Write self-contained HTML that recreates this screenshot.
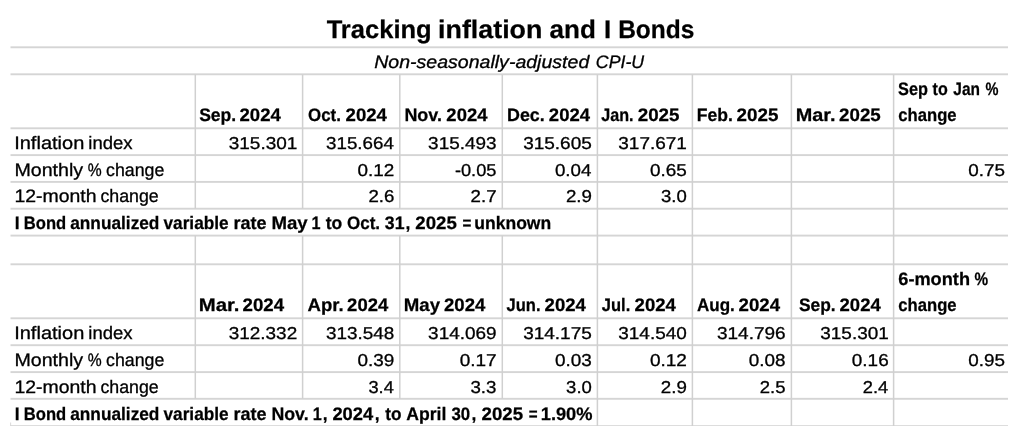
<!DOCTYPE html>
<html lang="en">
<head>
<meta charset="utf-8">
<title>Tracking inflation and I Bonds</title>
<style>
html,body{margin:0;padding:0;background:#fff;}
body{width:1024px;height:426px;position:relative;overflow:hidden;font-family:"Liberation Sans", sans-serif;color:#000;text-rendering:geometricPrecision;}
.g{position:absolute;left:0;top:0;}
.t{position:absolute;left:0;top:0;display:block;white-space:pre;line-height:1;transform-origin:0 0;-webkit-text-stroke:0.3px #000;}
.b{font-weight:bold;-webkit-text-stroke-width:0.25px;}.i{font-style:italic;}
.s{font-size:18.0px;}
.n{font-size:17.2px;}
</style>
</head>
<body>
<svg class="g" width="1024" height="426" viewBox="0 0 1024 426" fill="#d5d5d5">
<rect x="10.5" y="46.35" width="997.5" height="1.9"/>
<rect x="10.5" y="73.35" width="997.5" height="1.9"/>
<rect x="10.5" y="127.35" width="997.5" height="1.9"/>
<rect x="10.5" y="154.15" width="997.5" height="1.9"/>
<rect x="10.5" y="180.95" width="997.5" height="1.9"/>
<rect x="10.5" y="207.75" width="997.5" height="1.9"/>
<rect x="10.5" y="234.65" width="997.5" height="1.9"/>
<rect x="10.5" y="263.35" width="997.5" height="1.9"/>
<rect x="10.5" y="317.35" width="997.5" height="1.9"/>
<rect x="10.5" y="344.25" width="997.5" height="1.9"/>
<rect x="10.5" y="371.15" width="997.5" height="1.9"/>
<rect x="10.5" y="397.85" width="997.5" height="1.9"/>
<rect x="10.5" y="425.20" width="997.5" height="1.9"/>
<rect fill="#d0d0d0" x="194.55" y="74.30" width="1.5" height="134.40"/>
<rect fill="#d0d0d0" x="194.55" y="235.60" width="1.5" height="163.20"/>
<rect fill="#d0d0d0" x="301.85" y="74.30" width="1.5" height="134.40"/>
<rect fill="#d0d0d0" x="301.85" y="235.60" width="1.5" height="163.20"/>
<rect fill="#d0d0d0" x="399.05" y="74.30" width="1.5" height="134.40"/>
<rect fill="#d0d0d0" x="399.05" y="235.60" width="1.5" height="163.20"/>
<rect fill="#d0d0d0" x="501.55" y="74.30" width="1.5" height="134.40"/>
<rect fill="#d0d0d0" x="501.55" y="235.60" width="1.5" height="163.20"/>
<rect fill="#d0d0d0" x="596.65" y="74.30" width="1.5" height="134.40"/>
<rect fill="#d0d0d0" x="596.65" y="208.70" width="1.5" height="26.90"/>
<rect fill="#d0d0d0" x="596.65" y="235.60" width="1.5" height="163.20"/>
<rect fill="#d0d0d0" x="596.65" y="398.80" width="1.5" height="27.20"/>
<rect fill="#d0d0d0" x="691.65" y="74.30" width="1.5" height="134.40"/>
<rect fill="#d0d0d0" x="691.65" y="208.70" width="1.5" height="26.90"/>
<rect fill="#d0d0d0" x="691.65" y="235.60" width="1.5" height="163.20"/>
<rect fill="#d0d0d0" x="691.65" y="398.80" width="1.5" height="27.20"/>
<rect fill="#d0d0d0" x="790.65" y="74.30" width="1.5" height="134.40"/>
<rect fill="#d0d0d0" x="790.65" y="208.70" width="1.5" height="26.90"/>
<rect fill="#d0d0d0" x="790.65" y="235.60" width="1.5" height="163.20"/>
<rect fill="#d0d0d0" x="790.65" y="398.80" width="1.5" height="27.20"/>
<rect fill="#d0d0d0" x="892.85" y="74.30" width="1.5" height="134.40"/>
<rect fill="#d0d0d0" x="892.85" y="208.70" width="1.5" height="26.90"/>
<rect fill="#d0d0d0" x="892.85" y="235.60" width="1.5" height="163.20"/>
<rect fill="#d0d0d0" x="892.85" y="398.80" width="1.5" height="27.20"/>
<rect x="10.20" y="422.5" width="0.9" height="3.5"/>
</svg>
<div><span class="t b" style="font-size:25.4px;transform:translate(326.68px,17.96px) scaleX(1.0052)">Tracking </span><span class="t b" style="font-size:25.4px;transform:translate(438.09px,17.96px) scaleX(1.0565)">inflation </span><span class="t b" style="font-size:25.4px;transform:translate(549.60px,17.96px) scaleX(1.0243)">and </span><span class="t b" style="font-size:25.4px;transform:translate(603.90px,17.96px) scaleX(1.0147)">I </span><span class="t b" style="font-size:25.4px;transform:translate(618.13px,17.96px) scaleX(0.9652)">Bonds</span></div>
<div><span class="t i s" style="transform:translate(374.24px,52.65px) scaleX(1.0853)">Non-seasonally-adjusted </span><span class="t i s" style="transform:translate(595.85px,52.65px) scaleX(0.9856)">CPI-U</span></div>
<div><span class="t b s" style="transform:translate(199.13px,106.25px) scaleX(0.9752)">Sep. </span><span class="t b s" style="transform:translate(239.53px,106.25px) scaleX(1.0304)">2024</span></div>
<div><span class="t b s" style="transform:translate(307.98px,106.25px) scaleX(0.9399)">Oct. </span><span class="t b s" style="transform:translate(345.58px,106.25px) scaleX(1.0321)">2024</span></div>
<div><span class="t b s" style="transform:translate(404.41px,106.25px) scaleX(0.9971)">Nov. </span><span class="t b s" style="transform:translate(446.37px,106.25px) scaleX(1.0248)">2024</span></div>
<div><span class="t b s" style="transform:translate(507.01px,106.25px) scaleX(0.9936)">Dec. </span><span class="t b s" style="transform:translate(548.86px,106.25px) scaleX(1.0275)">2024</span></div>
<div><span class="t b s" style="transform:translate(601.22px,106.25px) scaleX(0.8974)">Jan. </span><span class="t b s" style="transform:translate(637.74px,106.25px) scaleX(1.0427)">2025</span></div>
<div><span class="t b s" style="transform:translate(696.77px,106.25px) scaleX(0.9759)">Feb. </span><span class="t b s" style="transform:translate(736.57px,106.25px) scaleX(1.0443)">2025</span></div>
<div><span class="t b s" style="transform:translate(795.71px,106.25px) scaleX(1.1037)">Mar. </span><span class="t b s" style="transform:translate(839.09px,106.25px) scaleX(1.0414)">2025</span></div>
<div><span class="t b s" style="transform:translate(898.11px,79.75px) scaleX(0.9056)">Sep </span><span class="t b s" style="transform:translate(932.59px,79.75px) scaleX(0.8918)">to </span><span class="t b s" style="transform:translate(953.29px,79.75px) scaleX(0.8593)">Jan </span><span class="t b s" style="transform:translate(985.49px,79.75px) scaleX(0.8094)">%</span></div>
<div><span class="t b s" style="transform:translate(898.26px,106.25px) scaleX(0.9253)">change</span></div>
<div><span class="t s" style="transform:translate(14.16px,133.75px) scaleX(1.1129)">Inflation </span><span class="t s" style="transform:translate(88.27px,133.75px) scaleX(1.0271)">index</span></div>
<div><span class="t s" style="transform:translate(14.40px,160.65px) scaleX(1.0904)">Monthly </span><span class="t s" style="transform:translate(87.63px,160.65px) scaleX(0.8699)">% </span><span class="t s" style="transform:translate(106.10px,160.65px) scaleX(0.9863)">change</span></div>
<div><span class="t s" style="transform:translate(14.38px,187.35px) scaleX(1.0800)">12-month </span><span class="t s" style="transform:translate(100.38px,187.35px) scaleX(0.9871)">change</span></div>
<div><span class="t b s" style="transform:translate(14.79px,214.25px) scaleX(0.9733)">I </span><span class="t b s" style="transform:translate(23.80px,214.25px) scaleX(0.9218)">Bond </span><span class="t b s" style="transform:translate(70.21px,214.25px) scaleX(0.9589)">annualized </span><span class="t b s" style="transform:translate(163.48px,214.25px) scaleX(0.9571)">variable </span><span class="t b s" style="transform:translate(233.49px,214.25px) scaleX(0.9998)">rate </span><span class="t b s" style="transform:translate(271.46px,214.25px) scaleX(1.0354)">May </span><span class="t b s" style="transform:translate(311.48px,214.25px) scaleX(0.9000)">1 </span><span class="t b s" style="transform:translate(325.77px,214.25px) scaleX(0.9735)">to </span><span class="t b s" style="transform:translate(346.98px,214.25px) scaleX(0.9454)">Oct. </span><span class="t b s" style="transform:translate(384.84px,214.25px) scaleX(0.9819)">31</span><span class="t b s" style="transform:translate(405.58px,214.25px) scaleX(0.9733)">, </span><span class="t b s" style="transform:translate(415.33px,214.25px) scaleX(1.0350)">2025 </span><span class="t b s" style="transform:translate(462.59px,214.25px) scaleX(0.8407)">= </span><span class="t b s" style="transform:translate(474.29px,214.25px) scaleX(0.9733)">unknown</span></div>
<div><span class="t n" style="transform:translate(228.74px,135.13px) scaleX(1.1042)">315.301</span></div>
<div><span class="t n" style="transform:translate(326.03px,135.13px) scaleX(1.0920)">315.664</span></div>
<div><span class="t n" style="transform:translate(428.11px,135.13px) scaleX(1.1005)">315.493</span></div>
<div><span class="t n" style="transform:translate(523.13px,135.13px) scaleX(1.1059)">315.605</span></div>
<div><span class="t n" style="transform:translate(618.28px,135.13px) scaleX(1.1041)">317.671</span></div>
<div><span class="t n" style="transform:translate(357.53px,161.73px) scaleX(1.0990)">0.12</span></div>
<div><span class="t n" style="transform:translate(454.92px,161.73px) scaleX(1.0595)">-0.05</span></div>
<div><span class="t n" style="transform:translate(554.95px,161.73px) scaleX(1.0905)">0.04</span></div>
<div><span class="t n" style="transform:translate(649.94px,161.73px) scaleX(1.0995)">0.65</span></div>
<div><span class="t n" style="transform:translate(968.20px,161.73px) scaleX(1.0967)">0.75</span></div>
<div><span class="t n" style="transform:translate(368.39px,188.33px) scaleX(1.0834)">2.6</span></div>
<div><span class="t n" style="transform:translate(470.59px,188.33px) scaleX(1.0862)">2.7</span></div>
<div><span class="t n" style="transform:translate(565.88px,188.33px) scaleX(1.0889)">2.9</span></div>
<div><span class="t n" style="transform:translate(660.95px,188.33px) scaleX(1.0793)">3.0</span></div>
<div><span class="t b s" style="transform:translate(198.71px,296.35px) scaleX(1.1311)">Mar. </span><span class="t b s" style="transform:translate(242.50px,296.35px) scaleX(1.0381)">2024</span></div>
<div><span class="t b s" style="transform:translate(307.49px,296.35px) scaleX(1.0315)">Apr. </span><span class="t b s" style="transform:translate(347.12px,296.35px) scaleX(1.0254)">2024</span></div>
<div><span class="t b s" style="transform:translate(403.79px,296.35px) scaleX(1.0361)">May </span><span class="t b s" style="transform:translate(443.97px,296.35px) scaleX(1.0321)">2024</span></div>
<div><span class="t b s" style="transform:translate(506.58px,296.35px) scaleX(0.9166)">Jun. </span><span class="t b s" style="transform:translate(544.58px,296.35px) scaleX(1.0304)">2024</span></div>
<div><span class="t b s" style="transform:translate(601.83px,296.35px) scaleX(0.9170)">Jul. </span><span class="t b s" style="transform:translate(634.58px,296.35px) scaleX(1.0304)">2024</span></div>
<div><span class="t b s" style="transform:translate(696.99px,296.35px) scaleX(0.9462)">Aug. </span><span class="t b s" style="transform:translate(738.58px,296.35px) scaleX(1.0352)">2024</span></div>
<div><span class="t b s" style="transform:translate(798.91px,296.35px) scaleX(0.9654)">Sep. </span><span class="t b s" style="transform:translate(839.59px,296.35px) scaleX(1.0270)">2024</span></div>
<div><span class="t b s" style="transform:translate(898.27px,269.85px) scaleX(1.0104)">6-month </span><span class="t b s" style="transform:translate(974.59px,269.85px) scaleX(0.8499)">%</span></div>
<div><span class="t b s" style="transform:translate(898.26px,296.35px) scaleX(0.9253)">change</span></div>
<div><span class="t s" style="transform:translate(14.16px,323.75px) scaleX(1.1129)">Inflation </span><span class="t s" style="transform:translate(88.27px,323.75px) scaleX(1.0271)">index</span></div>
<div><span class="t s" style="transform:translate(14.40px,350.55px) scaleX(1.0904)">Monthly </span><span class="t s" style="transform:translate(87.63px,350.55px) scaleX(0.8699)">% </span><span class="t s" style="transform:translate(106.10px,350.55px) scaleX(0.9863)">change</span></div>
<div><span class="t s" style="transform:translate(14.38px,377.65px) scaleX(1.0800)">12-month </span><span class="t s" style="transform:translate(100.38px,377.65px) scaleX(0.9871)">change</span></div>
<div><span class="t b s" style="transform:translate(14.83px,404.65px) scaleX(0.9687)">I </span><span class="t b s" style="transform:translate(23.80px,404.65px) scaleX(0.9218)">Bond </span><span class="t b s" style="transform:translate(70.21px,404.65px) scaleX(0.9589)">annualized </span><span class="t b s" style="transform:translate(163.48px,404.65px) scaleX(0.9571)">variable </span><span class="t b s" style="transform:translate(233.49px,404.65px) scaleX(0.9998)">rate </span><span class="t b s" style="transform:translate(271.44px,404.65px) scaleX(0.9859)">Nov. </span><span class="t b s" style="transform:translate(312.69px,404.65px) scaleX(0.9000)">1</span><span class="t b s" style="transform:translate(322.84px,404.65px) scaleX(0.9687)">, </span><span class="t b s" style="transform:translate(332.39px,404.65px) scaleX(1.0183)">2024</span><span class="t b s" style="transform:translate(374.87px,404.65px) scaleX(0.9687)">, </span><span class="t b s" style="transform:translate(385.34px,404.65px) scaleX(0.9548)">to </span><span class="t b s" style="transform:translate(406.27px,404.65px) scaleX(0.9785)">April </span><span class="t b s" style="transform:translate(451.48px,404.65px) scaleX(0.9326)">30</span><span class="t b s" style="transform:translate(471.52px,404.65px) scaleX(0.9687)">, </span><span class="t b s" style="transform:translate(481.58px,404.65px) scaleX(1.0363)">2025 </span><span class="t b s" style="transform:translate(528.82px,404.65px) scaleX(0.8401)">= </span><span class="t b s" style="transform:translate(540.72px,404.65px) scaleX(1.0151)">1.90%</span></div>
<div><span class="t n" style="transform:translate(228.74px,325.13px) scaleX(1.1016)">312.332</span></div>
<div><span class="t n" style="transform:translate(326.02px,325.13px) scaleX(1.0986)">313.548</span></div>
<div><span class="t n" style="transform:translate(428.10px,325.13px) scaleX(1.1018)">314.069</span></div>
<div><span class="t n" style="transform:translate(523.13px,325.13px) scaleX(1.1059)">314.175</span></div>
<div><span class="t n" style="transform:translate(618.28px,325.13px) scaleX(1.1027)">314.540</span></div>
<div><span class="t n" style="transform:translate(716.93px,325.13px) scaleX(1.1058)">314.796</span></div>
<div><span class="t n" style="transform:translate(820.27px,325.13px) scaleX(1.1023)">315.301</span></div>
<div><span class="t n" style="transform:translate(357.53px,351.93px) scaleX(1.1002)">0.39</span></div>
<div><span class="t n" style="transform:translate(459.71px,351.93px) scaleX(1.1045)">0.17</span></div>
<div><span class="t n" style="transform:translate(554.96px,351.93px) scaleX(1.1018)">0.03</span></div>
<div><span class="t n" style="transform:translate(649.93px,351.93px) scaleX(1.1062)">0.12</span></div>
<div><span class="t n" style="transform:translate(748.81px,351.93px) scaleX(1.0981)">0.08</span></div>
<div><span class="t n" style="transform:translate(851.85px,351.93px) scaleX(1.1003)">0.16</span></div>
<div><span class="t n" style="transform:translate(968.20px,351.93px) scaleX(1.0967)">0.95</span></div>
<div><span class="t n" style="transform:translate(368.47px,378.73px) scaleX(1.0605)">3.4</span></div>
<div><span class="t n" style="transform:translate(470.38px,378.73px) scaleX(1.0889)">3.3</span></div>
<div><span class="t n" style="transform:translate(566.10px,378.73px) scaleX(1.0784)">3.0</span></div>
<div><span class="t n" style="transform:translate(660.86px,378.73px) scaleX(1.0903)">2.9</span></div>
<div><span class="t n" style="transform:translate(759.76px,378.73px) scaleX(1.0773)">2.5</span></div>
<div><span class="t n" style="transform:translate(862.70px,378.73px) scaleX(1.0648)">2.4</span></div>
</body>
</html>
